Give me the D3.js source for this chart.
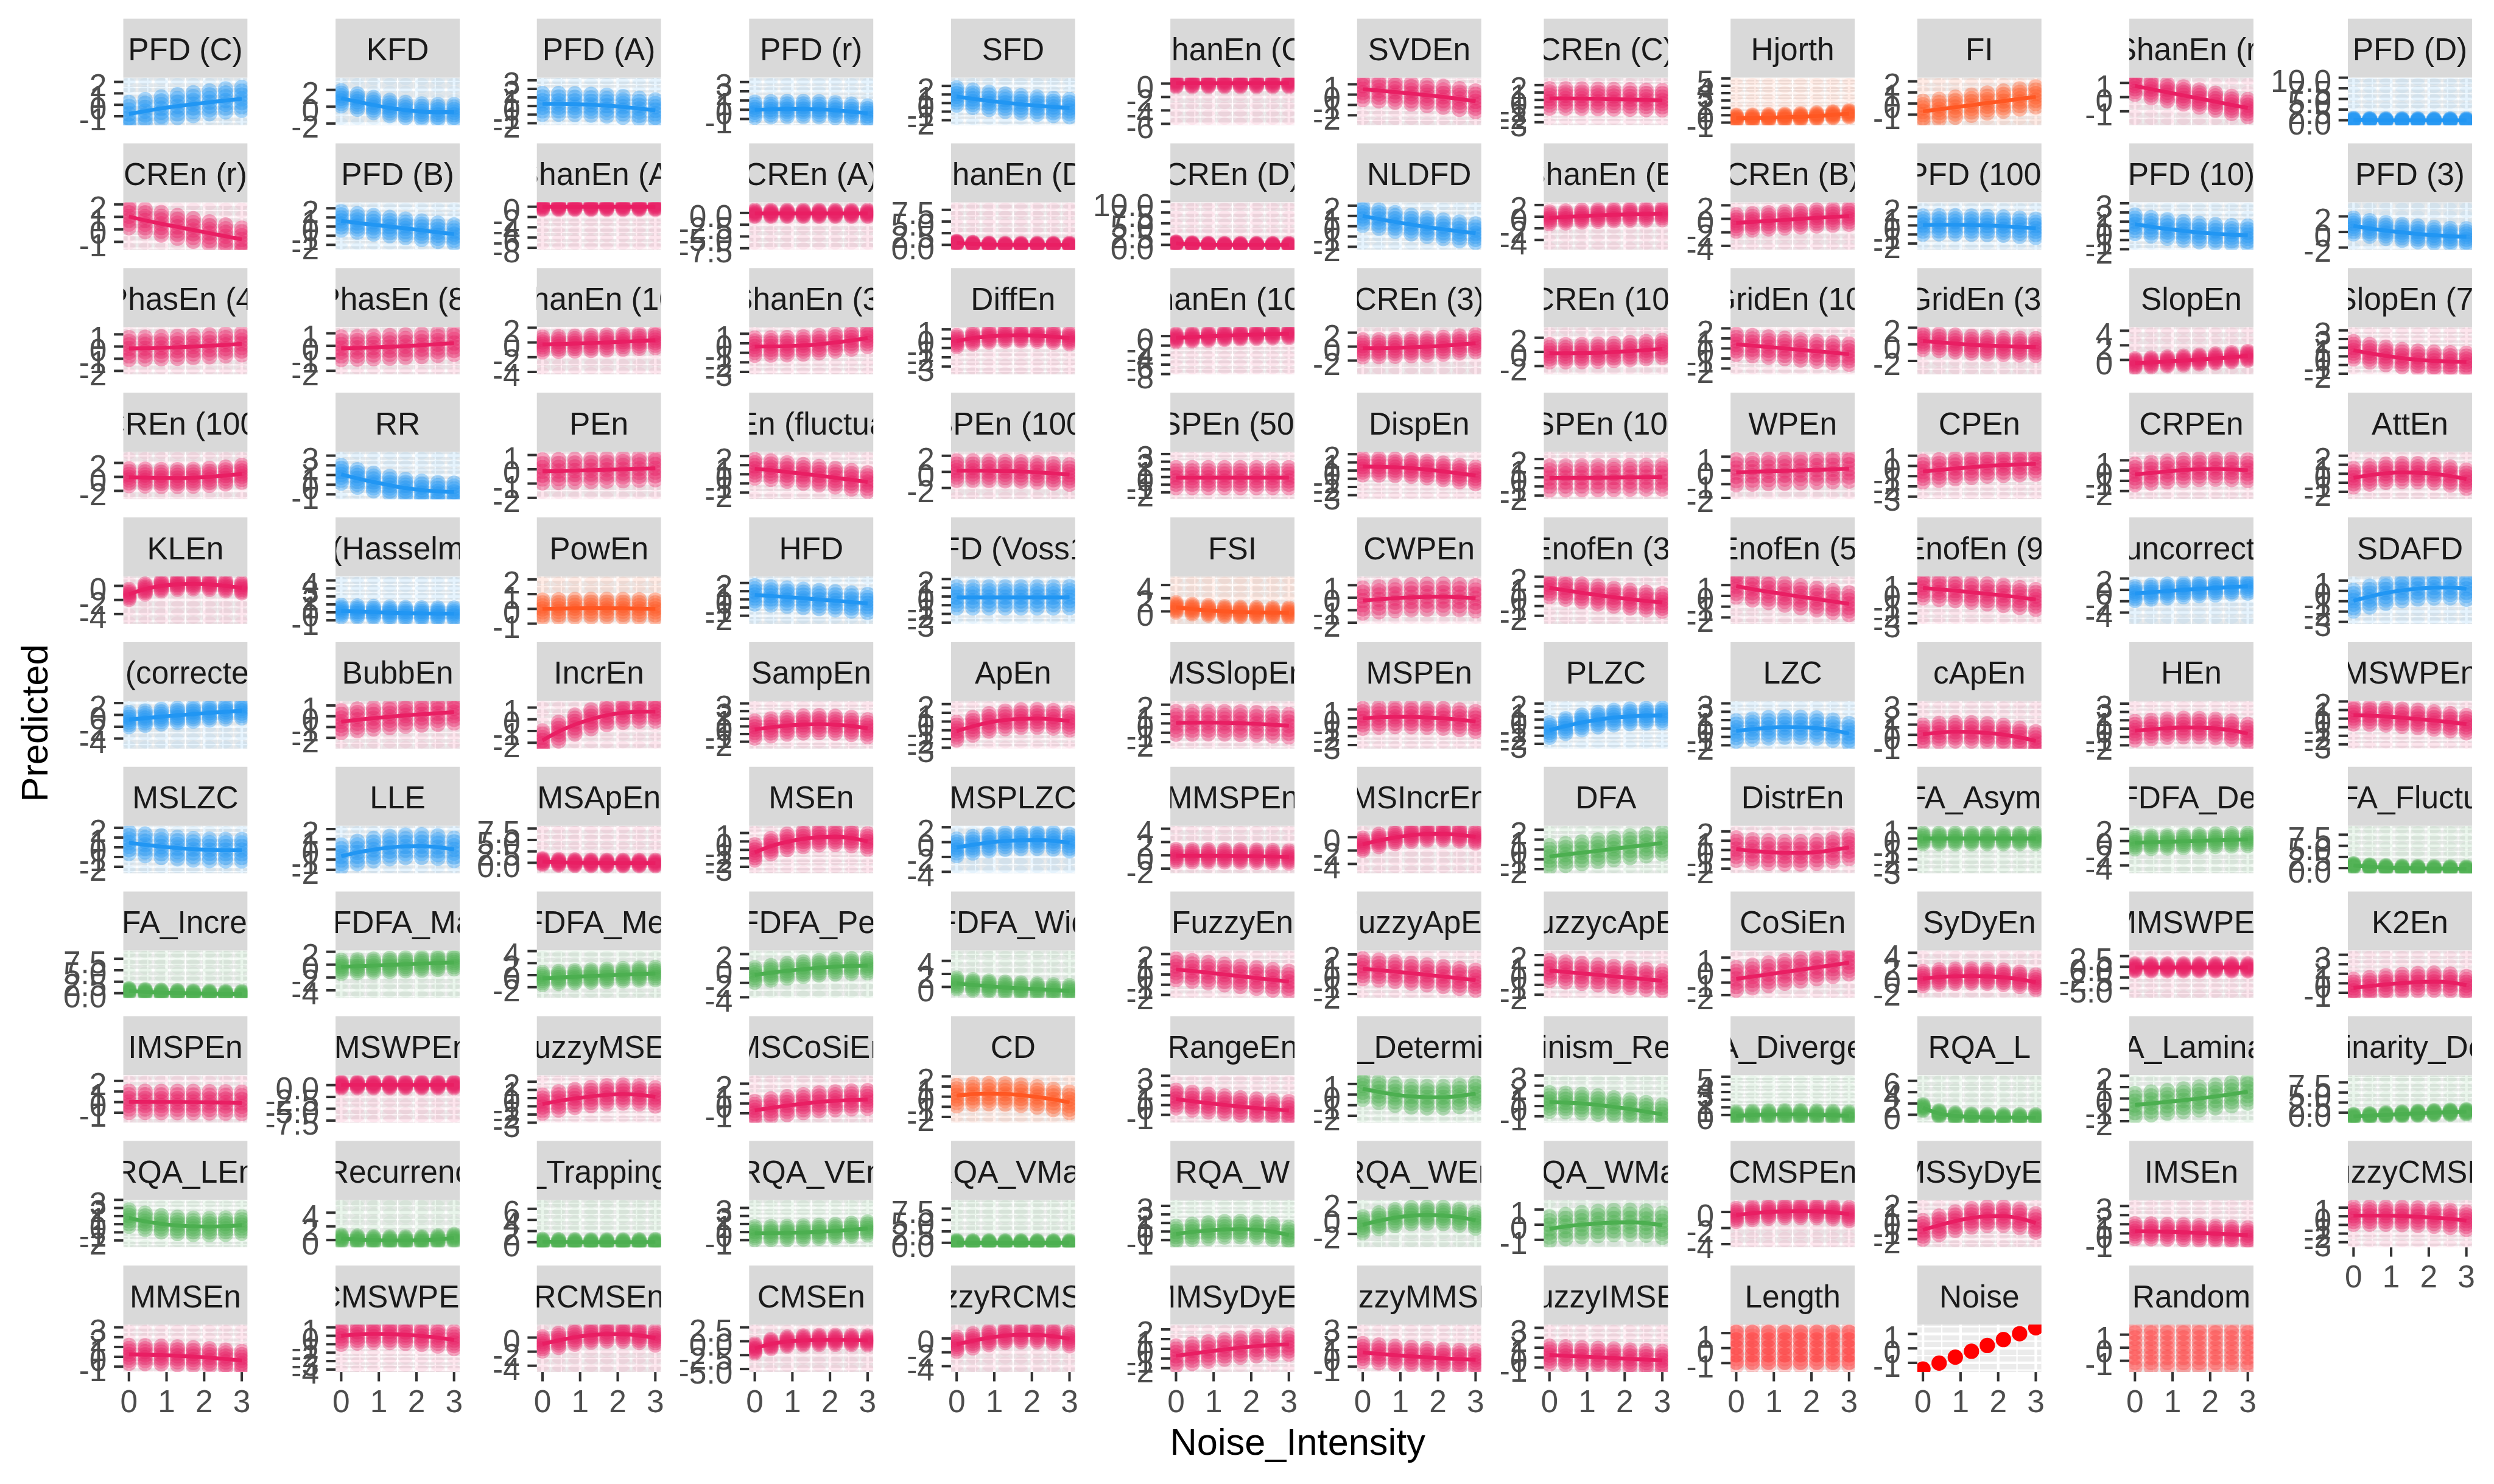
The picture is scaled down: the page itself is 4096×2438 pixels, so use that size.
<!DOCTYPE html>
<html><head><meta charset="utf-8">
<script src="https://cdn.jsdelivr.net/npm/d3@7"></script>
<style>html,body{margin:0;padding:0;background:#fff;} svg{display:block;}</style>
</head><body>
<svg id="chart" width="4096" height="2438"></svg>
<script>
// ---------------- DATA ----------------
const noiseLevels = [0, 0.43, 0.86, 1.29, 1.71, 2.14, 2.57, 3];
const xTickValues = [0, 1, 2, 3];

const indexNames = [
"PFD (C)","KFD","PFD (A)","PFD (r)","SFD","ShanEn (C)","SVDEn","CREn (C)","Hjorth","FI","ShanEn (r)","PFD (D)",
"CREn (r)","PFD (B)","ShanEn (A)","CREn (A)","ShanEn (D)","CREn (D)","NLDFD","ShanEn (B)","CREn (B)","PFD (100)","PFD (10)","PFD (3)",
"PhasEn (4)","PhasEn (8)","ShanEn (10)","ShanEn (3)","DiffEn","ShanEn (100)","CREn (3)","CREn (10)","GridEn (10)","GridEn (3)","SlopEn","SlopEn (7)",
"CREn (100)","RR","PEn","DispEn (fluctuation)","SPEn (100)","SPEn (50)","DispEn","SPEn (10)","WPEn","CPEn","CRPEn","AttEn",
"KLEn","PSDFD (Hasselman2013)","PowEn","HFD","PSDFD (Voss1998)","FSI","CWPEn","EnofEn (3)","EnofEn (5)","EnofEn (9)","H (uncorrected)","SDAFD",
"H (corrected)","BubbEn","IncrEn","SampEn","ApEn","MSSlopEn","MSPEn","PLZC","LZC","cApEn","HEn","MSWPEn",
"MSLZC","LLE","MSApEn","MSEn","MSPLZC","MMSPEn","MSIncrEn","DFA","DistrEn","MFDFA_Asymmetry","MFDFA_Delta","MFDFA_Fluctuation",
"MFDFA_Increment","MFDFA_Max","MFDFA_Mean","MFDFA_Peak","MFDFA_Width","FuzzyEn","FuzzyApEn","FuzzycApEn","CoSiEn","SyDyEn","MMSWPEn","K2En",
"IMSPEn","IMSWPEn","FuzzyMSEn","MSCoSiEn","CD","RangeEn","RQA_Determinism","RQA_Determinism_RecurrenceRate","RQA_Divergence","RQA_L","RQA_Laminarity","RQA_Laminarity_Determinism",
"RQA_LEn","RQA_RecurrenceRate","RQA_TrappingTime","RQA_VEn","RQA_VMax","RQA_W","RQA_WEn","RQA_WMax","CMSPEn","MSSyDyEn","IMSEn","FuzzyCMSEn",
"MMSEn","CMSWPEn","RCMSEn","CMSEn","FuzzyRCMSEn","MMSyDyEn","FuzzyMMSEn","FuzzyIMSEn","Length","Noise","Random"
];

const indexGroups = ("BBBBBPPPOOPB" + "PBPPPPBPPBBB" + "PPPPPPPPPPPP" + "PBPPPPPPPPPP" +
  "PBOBBOPPPPBB" + "BPPPPPPBBPPP" + "BBPPBPPGPGGG" + "GGGGGPPPPPPP" +
  "PPPPOPGGGGGG" + "GGGGGGGGPPPP" + "PPPPPPPPRNR").split("");

const yTicks = [
[2,1,0,-1],[2,0,-2],[3,2,1,0,-1,-2],[3,2,1,0,-1],[2,1,0,-1,-2],[0,-2,-4,-6],[1,0,-1,-2],[2,1,0,-1,-2,-3],[5,4,3,2,1,0,-1],[2,1,0,-1],[1,0,-1],[10,7.5,5,2.5,0],
[2,1,0,-1],[2,1,0,-1,-2],[0,-2,-4,-6,-8],[0,-2.5,-5,-7.5],[7.5,5,2.5,0],[10,7.5,5,2.5,0],[2,1,0,-1,-2],[2,0,-2,-4],[2,0,-2,-4],[2,1,0,-1,-2],[3,2,1,0,-1,-2],[2,0,-2],
[1,0,-1,-2],[1,0,-1,-2],[2,0,-2,-4],[1,0,-1,-2,-3],[1,0,-1,-2,-3],[0,-2,-4,-6,-8],[2,0,-2],[2,0,-2],[2,1,0,-1,-2],[2,0,-2],[4,2,0],[3,2,1,0,-1,-2],
[2,0,-2],[3,2,1,0,-1],[1,0,-1,-2],[2,1,0,-1,-2],[2,0,-2],[3,2,1,0,-1,-2],[2,1,0,-1,-2,-3],[2,1,0,-1,-2],[1,0,-1,-2],[1,0,-1,-2,-3],[1,0,-1,-2],[2,1,0,-1,-2],
[0,-2,-4],[4,3,2,1,0,-1],[2,1,0,-1],[2,1,0,-1,-2],[2,1,0,-1,-2,-3],[4,2,0],[1,0,-1,-2],[2,1,0,-1,-2],[1,0,-1,-2],[1,0,-1,-2,-3],[2,0,-2,-4],[1,0,-1,-2,-3],
[2,0,-2,-4],[1,0,-1,-2],[1,0,-1,-2],[3,2,1,0,-1,-2],[2,1,0,-1,-2,-3],[2,1,0,-1,-2],[1,0,-1,-2,-3],[2,1,0,-1,-2,-3],[3,2,1,0,-1,-2],[3,2,1,0,-1],[3,2,1,0,-1,-2],[2,1,0,-1,-2,-3],
[2,1,0,-1,-2],[2,1,0,-1,-2],[7.5,5,2.5,0],[1,0,-1,-2,-3],[2,0,-2,-4],[4,2,0,-2],[0,-2,-4],[2,1,0,-1,-2],[2,1,0,-1,-2],[1,0,-1,-2,-3],[2,0,-2,-4],[7.5,5,2.5,0],
[7.5,5,2.5,0],[2,0,-2,-4],[4,2,0,-2],[2,0,-2,-4],[4,2,0],[2,1,0,-1,-2],[2,1,0,-1,-2],[2,1,0,-1,-2],[1,0,-1,-2],[4,2,0,-2],[2.5,0,-2.5,-5],[3,2,1,0,-1],
[2,1,0,-1],[0,-2.5,-5,-7.5],[2,1,0,-1,-2,-3],[2,1,0,-1],[2,1,0,-1,-2],[3,2,1,0,-1],[1,0,-1,-2],[3,2,1,0,-1],[5,4,3,2,1,0],[6,4,2,0],[2,1,0,-1,-2],[7.5,5,2.5,0],
[3,2,1,0,-1,-2],[4,2,0],[6,4,2,0],[3,2,1,0,-1],[7.5,5,2.5,0],[3,2,1,0,-1],[2,0,-2],[1,0,-1],[0,-2,-4],[2,1,0,-1,-2],[3,2,1,0,-1],[1,0,-1,-2,-3],
[3,2,1,0,-1],[1,0,-1,-2,-3,-4],[0,-2,-4],[2.5,0,-2.5,-5],[0,-2,-4],[2,1,0,-1,-2],[3,2,1,0,-1],[3,2,1,0,-1],[1,0,-1],[1,0,-1],[1,0,-1]
];

const yLims = [
[-1.78,2.37],[-2.2,3.45],[-2.23,3.3],[-1.67,3.47],[-2.58,2.96],[-6.2,0.88],[-2.96,1.64],[-3.4,3.0],[-1.35,5.1],[-1.95,2.33],[-1.98,1.37],[-1.16,10.0],
[-1.64,2.16],[-2.55,2.65],[-8.4,0.85],[-7.85,2.25],[-1.07,9.1],[-1.15,9.85],[-2.3,2.32],[-5.7,2.46],[-4.6,2.44],[-2.7,2.55],[-2.07,3.1],[-2.3,3.8],
[-2.3,1.6],[-2.3,1.5],[-4.36,2.09],[-3.28,1.7],[-3.86,1.25],[-8.1,1.9],[-4.0,2.8],[-3.2,3.5],[-2.6,2.13],[-3.64,2.08],[-2.0,4.5],[-2.1,3.38],
[-3.2,3.6],[-1.5,3.4],[-2.1,1.23],[-2.73,2.47],[-3.4,2.5],[-2.9,3.3],[-3.5,2.3],[-2.4,2.8],[-2.1,1.36],[-3.26,1.39],[-2.8,1.84],[-2.83,2.44],
[-5.4,1.34],[-1.45,4.5],[-1.02,2.2],[-3.0,2.8],[-3.15,2.3],[-1.9,5.3],[-2.1,1.7],[-2.83,2.03],[-2.6,1.8],[-3.07,1.72],[-6.0,2.37],[-3.2,1.4],
[-5.7,2.33],[-3.0,1.4],[-2.5,1.55],[-2.9,3.3],[-3.1,2.34],[-2.7,2.38],[-3.4,1.94],[-3.6,2.3],[-2.4,3.27],[-1.35,3.3],[-2.4,3.3],[-3.5,2.04],
[-2.67,2.2],[-2.35,2.32],[-2.3,8.1],[-3.77,1.85],[-4.2,2.2],[-2.7,4.44],[-5.4,1.7],[-2.42,2.4],[-2.5,2.6],[-3.35,1.22],[-5.3,2.5],[-1.17,9.5],
[-1.05,9.3],[-5.2,2.2],[-3.8,4.1],[-4.1,2.5],[-1.7,5.6],[-2.3,2.35],[-2.4,2.4],[-2.33,2.46],[-2.23,1.57],[-3.0,4.35],[-7.3,3.8],[-1.55,3.45],
[-1.94,2.54],[-7.95,2.1],[-3.0,2.8],[-1.95,2.86],[-2.57,2.12],[-1.8,3.06],[-2.65,1.83],[-1.63,3.03],[-1.0,5.2],[-1.4,7.0],[-2.13,2.05],[-2.5,9.3],
[-2.86,3.0],[-1.07,5.87],[-0.93,7.6],[-1.9,4.0],[-1.0,9.4],[-1.85,3.7],[-3.7,2.3],[-1.5,1.64],[-4.4,1.5],[-2.9,2.26],[-1.53,3.67],[-3.6,1.9],
[-1.55,3.28],[-4.3,1.33],[-4.9,1.85],[-5.55,3.0],[-4.85,2.0],[-2.4,2.5],[-1.55,3.28],[-1.46,3.33],[-1.6,1.57],[-1.64,1.65],[-1.86,1.77]
];

// fitted relation at each noise level (also the centre of the dense cloud of predictions)
const fitValues = [
[-0.8,-0.55,-0.32,-0.12,0.06,0.22,0.38,0.52],
[1.0,0.6,0.2,-0.15,-0.4,-0.58,-0.65,-0.65],
[0.25,0.25,0.22,0.15,0.05,-0.1,-0.3,-0.5],
[0,0.05,0.08,0.08,0.05,-0.05,-0.2,-0.4],
[0.77,0.5,0.25,0.05,-0.15,-0.3,-0.45,-0.58],
[0.05,0.05,0.05,0.05,0.05,0.05,0.05,0.05],
[0.52,0.4,0.25,0.1,-0.05,-0.22,-0.42,-0.65],
[0.2,0.2,0.18,0.15,0.1,0.05,0,-0.05],
[-0.4,-0.38,-0.33,-0.27,-0.2,-0.1,0.05,0.2],
[-0.7,-0.52,-0.33,-0.15,0.05,0.22,0.42,0.6],
[0.79,0.56,0.34,0.12,-0.1,-0.32,-0.55,-0.77],
[0.1,0.05,0,0,0,0,0,0],
[1.03,0.72,0.45,0.2,-0.05,-0.3,-0.55,-0.8],
[0.62,0.4,0.2,0,-0.2,-0.4,-0.62,-0.83],
[0,0,0,0,0,0,0,0],
[-0.1,-0.1,-0.1,-0.1,-0.1,-0.1,-0.1,-0.1],
[0.45,0.2,0.05,0,0,0,0,0],
[0.35,0.15,0.05,0,0,0,0,0],
[1.0,0.7,0.42,0.16,-0.08,-0.3,-0.5,-0.68],
[-0.2,-0.05,0.1,0.22,0.32,0.4,0.45,0.5],
[-0.6,-0.45,-0.3,-0.15,0,0.15,0.28,0.4],
[0.05,0.07,0.07,0.05,0,-0.08,-0.2,-0.32],
[0.72,0.45,0.2,0,-0.18,-0.32,-0.42,-0.48],
[0.77,0.45,0.18,-0.05,-0.25,-0.42,-0.55,-0.6],
[-0.16,-0.14,-0.1,-0.06,0,0.06,0.14,0.22],
[-0.2,-0.17,-0.13,-0.08,-0.02,0.05,0.13,0.22],
[-0.27,-0.22,-0.15,-0.08,0,0.1,0.2,0.3],
[-0.35,-0.33,-0.3,-0.22,-0.1,0.08,0.3,0.55],
[-0.25,0.05,0.25,0.35,0.37,0.33,0.22,0.05],
[-0.35,-0.2,-0.05,0.1,0.22,0.32,0.42,0.5],
[-0.24,-0.22,-0.18,-0.1,0,0.12,0.3,0.48],
[-0.2,-0.2,-0.18,-0.12,-0.03,0.1,0.25,0.43],
[0.42,0.28,0.14,0,-0.14,-0.28,-0.42,-0.57],
[0.4,0.25,0.1,-0.05,-0.15,-0.22,-0.28,-0.32],
[-0.45,-0.33,-0.2,-0.08,0.05,0.2,0.37,0.55],
[0.7,0.35,0.05,-0.2,-0.4,-0.52,-0.6,-0.65],
[-0.05,-0.1,-0.15,-0.17,-0.12,0,0.2,0.45],
[1.07,0.65,0.28,-0.05,-0.35,-0.55,-0.68,-0.74],
[-0.14,-0.12,-0.09,-0.06,-0.03,0,0.04,0.07],
[0.6,0.45,0.25,0.05,-0.15,-0.38,-0.6,-0.85],
[0.15,0.15,0.13,0.1,0.05,-0.05,-0.18,-0.33],
[-0.08,-0.08,-0.08,-0.08,-0.08,-0.08,-0.08,-0.08],
[0.5,0.47,0.4,0.3,0.12,-0.1,-0.35,-0.6],
[-0.07,-0.06,-0.05,-0.04,-0.02,0,0.02,0.03],
[-0.14,-0.1,-0.06,-0.03,0,0.04,0.08,0.12],
[-0.55,-0.4,-0.25,-0.12,0,0.08,0.15,0.2],
[-0.38,-0.22,-0.08,0.05,0.13,0.16,0.12,0.03],
[-0.45,-0.15,0.05,0.15,0.12,0,-0.25,-0.6],
[-1.2,-0.45,0,0.22,0.28,0.2,0,-0.28],
[0.16,0.1,0.03,-0.05,-0.1,-0.13,-0.15,-0.16],
[0,0.02,0.04,0.05,0.05,0.04,0.02,0],
[0.55,0.42,0.28,0.13,-0.02,-0.17,-0.33,-0.5],
[-0.1,-0.1,-0.1,-0.1,-0.1,-0.1,-0.1,-0.08],
[0.6,0.35,0.15,0,-0.1,-0.15,-0.18,-0.2],
[-0.23,-0.13,-0.04,0.03,0.07,0.08,0.04,-0.05],
[0.87,0.6,0.35,0.12,-0.1,-0.3,-0.48,-0.63],
[0.9,0.62,0.38,0.15,-0.08,-0.3,-0.52,-0.73],
[0.56,0.42,0.28,0.12,-0.04,-0.2,-0.4,-0.6],
[-0.64,-0.4,-0.2,0,0.18,0.33,0.5,0.64],
[-0.95,-0.55,-0.2,0.05,0.22,0.32,0.33,0.2],
[-0.8,-0.55,-0.3,-0.08,0.15,0.35,0.53,0.7],
[-0.5,-0.33,-0.18,-0.05,0.08,0.18,0.28,0.38],
[-1.8,-1.05,-0.45,0,0.35,0.55,0.64,0.65],
[-0.4,-0.12,0.1,0.25,0.3,0.22,0.05,-0.25],
[-1.1,-0.55,-0.1,0.18,0.32,0.35,0.25,0.05],
[0.05,0.07,0.08,0.06,0.02,-0.05,-0.14,-0.25],
[0,0.12,0.18,0.17,0.1,0,-0.15,-0.35],
[-1.3,-0.8,-0.35,0,0.25,0.4,0.5,0.52],
[-0.3,-0.08,0.08,0.17,0.15,0.05,-0.2,-0.6],
[0.05,0.22,0.3,0.28,0.18,0.02,-0.25,-0.6],
[-0.25,-0.1,0.05,0.13,0.12,0.02,-0.2,-0.6],
[0.4,0.35,0.25,0.1,-0.05,-0.22,-0.42,-0.65],
[0.47,0.25,0.07,-0.08,-0.2,-0.27,-0.3,-0.3],
[-0.67,-0.3,-0.02,0.18,0.3,0.32,0.22,0],
[0.28,0.12,0.03,-0.02,-0.04,-0.05,-0.05,-0.05],
[-1.3,-0.55,-0.05,0.3,0.5,0.55,0.4,0],
[-0.7,-0.35,-0.05,0.15,0.25,0.27,0.18,-0.08],
[-0.05,-0.06,-0.07,-0.08,-0.1,-0.13,-0.18,-0.25],
[-1.07,-0.5,-0.05,0.3,0.48,0.5,0.35,0.05],
[-0.72,-0.52,-0.33,-0.13,0.07,0.27,0.46,0.65],
[0.1,-0.1,-0.22,-0.3,-0.3,-0.22,0,0.28],
[0,0,0,0,0,0,0,0],
[-0.27,-0.2,-0.13,-0.05,0.03,0.12,0.2,0.27],
[0.58,0.3,0.12,0,-0.07,-0.1,-0.12,-0.15],
[0.5,0.28,0.12,0.02,-0.05,-0.1,-0.15,-0.18],
[-0.35,-0.25,-0.15,-0.05,0.05,0.15,0.25,0.35],
[-0.55,-0.4,-0.27,-0.15,-0.03,0.08,0.18,0.27],
[-0.9,-0.6,-0.32,-0.1,0.1,0.25,0.35,0.4],
[0.55,0.3,0.1,-0.08,-0.22,-0.35,-0.48,-0.6],
[0.5,0.35,0.18,0,-0.17,-0.35,-0.52,-0.7],
[0.55,0.42,0.27,0.1,-0.06,-0.23,-0.42,-0.6],
[0.44,0.3,0.15,0,-0.15,-0.3,-0.45,-0.6],
[-0.7,-0.52,-0.33,-0.15,0.03,0.22,0.4,0.6],
[0,0.25,0.37,0.4,0.35,0.2,-0.1,-0.55],
[-0.15,-0.15,-0.15,-0.15,-0.15,-0.15,-0.15,-0.15],
[-0.48,-0.3,-0.12,0.02,0.12,0.17,0.08,-0.2],
[0.02,0.02,0.01,0.01,0,-0.02,-0.04,-0.07],
[0.05,0.05,0.05,0.05,0.05,0.05,0.05,0.05],
[-0.73,-0.35,-0.05,0.2,0.4,0.5,0.4,0.15],
[-0.7,-0.45,-0.22,-0.02,0.15,0.27,0.35,0.4],
[0.1,0.25,0.3,0.27,0.15,-0.03,-0.27,-0.57],
[0.62,0.4,0.2,0.02,-0.15,-0.3,-0.43,-0.55],
[0.55,0.25,0,-0.17,-0.25,-0.25,-0.12,0.1],
[0.4,0.35,0.25,0.1,-0.08,-0.3,-0.55,-0.8],
[-0.1,0,0.05,0.07,0.07,0.03,-0.03,-0.1],
[1.27,0.2,-0.2,-0.38,-0.45,-0.48,-0.5,-0.5],
[-0.57,-0.44,-0.3,-0.15,0,0.17,0.38,0.6],
[-0.95,-0.75,-0.55,-0.35,-0.18,-0.02,0.1,0.22],
[0.75,0.35,0.05,-0.15,-0.27,-0.3,-0.25,-0.12],
[0.22,0.08,0,-0.05,-0.05,-0.02,0.1,0.3],
[0.1,0.05,0.02,0,0,0,0.02,0.05],
[-0.15,-0.13,-0.1,-0.05,0.03,0.13,0.28,0.45],
[0.05,0,0,0,0,0,0,0.02],
[-0.3,-0.05,0.12,0.25,0.28,0.2,-0.02,-0.4],
[-0.85,-0.35,0.05,0.3,0.38,0.32,0.1,-0.27],
[-0.28,-0.12,0,0.08,0.14,0.16,0.1,-0.04],
[-0.38,-0.15,0,0.08,0.1,0.08,-0.05,-0.27],
[-1.0,-0.5,-0.05,0.3,0.48,0.5,0.25,-0.25],
[0.25,0.22,0.18,0.12,0.05,-0.03,-0.1,-0.2],
[0.07,0.08,0.07,0.03,-0.05,-0.15,-0.3,-0.5],
[0.25,0.22,0.18,0.1,0.02,-0.08,-0.22,-0.37],
[0,0.15,0.22,0.2,0.12,-0.02,-0.22,-0.5],
[-0.9,-0.4,0.05,0.35,0.5,0.48,0.3,-0.05],
[-1.3,-0.5,-0.05,0.15,0.22,0.25,0.22,0.15],
[-0.83,-0.35,0.1,0.4,0.52,0.5,0.3,-0.05],
[-0.72,-0.5,-0.28,-0.07,0.12,0.28,0.4,0.45],
[0.44,0.3,0.17,0.05,-0.05,-0.15,-0.24,-0.3],
[0.25,0.18,0.1,0.03,-0.05,-0.13,-0.2,-0.28],
null,
null,
[0,0,0,0,0,0,0,0]
];

// half-height of the dense cloud of predictions around the centre
const bandWidths = [
1.0,0.9,1.2,0.8,1.0,0.5,1.0,1.3,0.4,0.9,0.6,0.3,
0.9,1.0,0.5,0.6,0.3,0.3,0.9,1.0,1.2,1.0,1.0,1.0,
0.9,0.9,1.0,0.9,0.6,0.8,1.2,1.2,1.0,1.0,0.6,1.0,
1.2,0.9,0.8,1.0,1.2,1.3,1.0,1.3,0.9,1.0,1.0,1.0,
0.7,0.7,0.6,1.1,1.2,0.7,1.0,0.9,1.0,1.0,1.2,1.0,
1.2,1.0,0.8,1.1,1.0,1.2,1.1,0.9,1.2,0.9,1.1,1.0,
1.1,1.1,0.6,0.9,1.1,0.9,0.9,1.1,1.2,0.5,1.0,0.4,
0.5,1.0,1.0,1.0,0.8,1.0,1.0,1.0,0.9,1.1,0.8,0.9,
1.0,0.6,1.1,0.9,1.0,0.9,1.0,0.9,0.5,0.5,1.0,0.5,
1.0,0.5,0.4,0.8,0.4,0.9,1.0,0.8,0.8,1.0,0.8,1.0,
0.9,1.0,1.0,0.8,1.0,1.0,0.9,0.9,0,0,1.5
];
const hasFitLine = indexNames.map(n => !["Length","Noise","Random"].includes(n));

const lengthLevels = [1.05, 0.55, 0.05, -0.45, -0.95];
const lengthBetween = [1.3, 0.8, 0.3, -0.2, -0.7, -1.2];
const noisePredicted = [-1.43, -1.02, -0.61, -0.2, 0.2, 0.61, 1.02, 1.43];

const groupColors = {B:"#2196F3", P:"#E91E63", O:"#FF5722", G:"#4CAF50", R:"#FF3B3B", N:"#FF0000"};

// ---------------- LAYOUT (reference pixel space, scaled by 0.902) ----------------
const S = 0.902;
const colLeft = [224.5, 611, 977.5, 1364, 1731.6, 2131, 2471, 2811, 3151, 3491, 3877, 4275];
const panelW = 226, stripH = 107.5, plotH = 86.5, rowPitch = 227.1, top0 = 34;
const FONT = "'Liberation Sans', Arial, Helvetica, sans-serif";
const fsSmall = 57, fsTitle = 68;
const tickLen = 17;

const svg = d3.select("#chart");
svg.append("rect").attr("width", 4096).attr("height", 2438).attr("fill", "#fff");
const root = svg.append("g").attr("transform", `scale(${S})`);
const defs = svg.append("defs");

const fmtTick = ticks => {
  const dec = ticks.some(t => Math.abs(t - Math.round(t)) > 1e-9);
  return t => dec ? t.toFixed(1) : String(t);
};

const nPanels = indexNames.length;
indexNames.forEach((name, i) => {
  const r = Math.floor(i / 12), c = i % 12;
  const left = colLeft[c];
  const stripTop = top0 + r * rowPitch;
  const plotTop = stripTop + stripH;
  const color = groupColors[indexGroups[i]];
  const isBottom = (i + 12 >= nPanels);

  const x = d3.scaleLinear().domain([-0.15, 3.15]).range([0, panelW]);
  const y = d3.scaleLinear().domain(yLims[i]).range([plotH, 0]);

  // strip
  const sg = root.append("g").attr("transform", `translate(${left},${stripTop})`);
  defs.append("clipPath").attr("id", "sc" + i)
    .append("rect").attr("width", panelW).attr("height", stripH);
  sg.append("rect").attr("width", panelW).attr("height", stripH).attr("fill", "#D9D9D9");
  sg.append("g").attr("clip-path", `url(#sc${i})`)
    .append("text").attr("x", panelW / 2).attr("y", 76)
    .attr("text-anchor", "middle").attr("font-family", FONT)
    .attr("font-size", fsSmall).attr("fill", "#1A1A1A").text(name);

  // panel
  const pg = root.append("g").attr("transform", `translate(${left},${plotTop})`);
  defs.append("clipPath").attr("id", "pc" + i)
    .append("rect").attr("width", panelW).attr("height", plotH);
  const inner = pg.append("g").attr("clip-path", `url(#pc${i})`);
  inner.append("rect").attr("width", panelW).attr("height", plotH).attr("fill", "#EBEBEB");

  // grid
  const tks = yTicks[i];
  const step = tks.length > 1 ? Math.abs(tks[0] - tks[1]) : 1;
  const minorY = [];
  for (let v = Math.min(...tks) - step / 2; v <= Math.max(...tks) + step / 2 + 1e-9; v += step) minorY.push(v);
  inner.selectAll(".gmy").data(minorY).enter().append("line")
    .attr("x1", 0).attr("x2", panelW).attr("y1", d => y(d)).attr("y2", d => y(d))
    .attr("stroke", "#fff").attr("stroke-width", 2.4);
  inner.selectAll(".gmx").data([0.5, 1.5, 2.5]).enter().append("line")
    .attr("y1", 0).attr("y2", plotH).attr("x1", d => x(d)).attr("x2", d => x(d))
    .attr("stroke", "#fff").attr("stroke-width", 2.4);
  inner.selectAll(".gy").data(tks).enter().append("line")
    .attr("x1", 0).attr("x2", panelW).attr("y1", d => y(d)).attr("y2", d => y(d))
    .attr("stroke", "#fff").attr("stroke-width", 4.8);
  inner.selectAll(".gx").data(xTickValues).enter().append("line")
    .attr("y1", 0).attr("y2", plotH).attr("x1", d => x(d)).attr("x2", d => x(d))
    .attr("stroke", "#fff").attr("stroke-width", 4.8);

  // points
  const R = 14;
  const dots = inner.append("g");
  const addDot = (xv, yv, op) => dots.append("circle")
    .attr("cx", x(xv)).attr("cy", y(yv)).attr("r", R)
    .attr("fill", color).attr("fill-opacity", op);

  if (name === "Noise") {
    noiseLevels.forEach((nx, k) => addDot(nx, noisePredicted[k], 1));
  } else if (name === "Length") {
    noiseLevels.forEach(nx => {
      lengthBetween.forEach(v => addDot(nx, v, 0.25));
      lengthLevels.forEach(v => addDot(nx, v, 0.48));
    });
  } else {
    const [lo, hi] = yLims[i];
    const fit = fitValues[i], band = bandWidths[i];
    // stack the cloud so consecutive circles sit ~9px apart
    const bandPx = Math.abs(y(0) - y(band));
    const half = Math.max(3, Math.round(bandPx / 9));
    noiseLevels.forEach((nx, k) => {
      for (let j = 0; j <= 6; j++) addDot(nx, lo + (hi - lo) * j / 6, 0.06);
      for (let j = -half; j <= half; j++) addDot(nx, fit[k] + band * j / half, 0.34);
    });
  }

  // fit line
  if (hasFitLine[i]) {
    const line = d3.line().x((d, k) => x(noiseLevels[k])).y(d => y(d)).curve(d3.curveMonotoneX);
    inner.append("path").datum(fitValues[i]).attr("d", line)
      .attr("fill", "none").attr("stroke", color).attr("stroke-width", 7)
      .attr("stroke-linecap", "butt");
  }

  // y axis
  const f = fmtTick(tks);
  tks.forEach(t => {
    pg.append("line").attr("x1", -tickLen).attr("x2", 0).attr("y1", y(t)).attr("y2", y(t))
      .attr("stroke", "#333333").attr("stroke-width", 4.5);
    pg.append("text").attr("x", -30).attr("y", y(t) + 26)
      .attr("text-anchor", "end").attr("font-family", FONT).attr("font-size", fsSmall)
      .attr("fill", "#4D4D4D").text(f(t));
  });

  // x axis (bottom panel of each column)
  if (isBottom) {
    xTickValues.forEach(t => {
      pg.append("line").attr("x1", x(t)).attr("x2", x(t)).attr("y1", plotH).attr("y2", plotH + tickLen)
        .attr("stroke", "#333333").attr("stroke-width", 4.5);
      pg.append("text").attr("x", x(t)).attr("y", plotH + 73)
        .attr("text-anchor", "middle").attr("font-family", FONT).attr("font-size", fsSmall)
        .attr("fill", "#4D4D4D").text(String(t));
    });
  }
});

// axis titles
root.append("text").attr("transform", "translate(87,1317) rotate(-90)")
  .attr("text-anchor", "middle").attr("font-family", FONT).attr("font-size", fsTitle)
  .attr("fill", "#000").text("Predicted");
root.append("text").attr("x", (colLeft[0] + colLeft[11] + panelW) / 2).attr("y", 2650)
  .attr("text-anchor", "middle").attr("font-family", FONT).attr("font-size", fsTitle)
  .attr("fill", "#000").text("Noise_Intensity");
</script>
</body></html>
